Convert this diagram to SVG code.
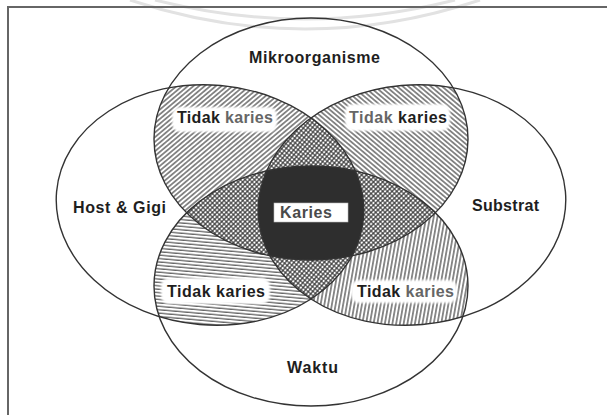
<svg xmlns="http://www.w3.org/2000/svg" width="607" height="415" viewBox="0 0 607 415">
<style>
  .lbl{font-family:"Liberation Sans",Arial,Helvetica,sans-serif;font-weight:bold;font-size:16px;fill:#1e1e1e}
  .outline{fill:none;stroke:#333;stroke-width:1.4}
  .box{fill:#fff;filter:url(#soft)}
  .dim{fill:#666}
  .wm{fill:none;stroke:#e2e2e2;stroke-width:3}
</style>
<defs>
  <ellipse id="eT" cx="311" cy="139" rx="157" ry="121"/>
  <ellipse id="eB" cx="311" cy="286" rx="157" ry="120"/>
  <ellipse id="eL" cx="210" cy="205" rx="154" ry="120" transform="rotate(5 210 205)"/>
  <ellipse id="eR" cx="412" cy="205" rx="154" ry="120" transform="rotate(-5 412 205)"/>
  <clipPath id="cT"><use href="#eT"/></clipPath>
  <clipPath id="cB"><use href="#eB"/></clipPath>
  <clipPath id="cL"><use href="#eL"/></clipPath>
  <clipPath id="cR"><use href="#eR"/></clipPath>
  <pattern id="hUL" width="3.6" height="3.6" patternUnits="userSpaceOnUse" patternTransform="rotate(45)">
    <rect width="3.6" height="3.6" fill="#fff"/>
    <line x1="0.9" y1="0" x2="0.9" y2="3.6" stroke="#444" stroke-width="1.2"/>
  </pattern>
  <pattern id="hUR" width="3.6" height="3.6" patternUnits="userSpaceOnUse" patternTransform="rotate(-45)">
    <rect width="3.6" height="3.6" fill="#fff"/>
    <line x1="0.9" y1="0" x2="0.9" y2="3.6" stroke="#444" stroke-width="1.2"/>
  </pattern>
  <pattern id="hH" width="4" height="3.4" patternUnits="userSpaceOnUse">
    <rect width="4" height="3.4" fill="#fff"/>
    <line x1="0" y1="1" x2="4" y2="1" stroke="#444" stroke-width="1.1"/>
  </pattern>
  <pattern id="hV" width="3.7" height="3.7" patternUnits="userSpaceOnUse" patternTransform="rotate(15)">
    <rect width="3.7" height="3.7" fill="#fff"/>
    <line x1="0.9" y1="0" x2="0.9" y2="3.7" stroke="#444" stroke-width="1.2"/>
  </pattern>
  <pattern id="dots" width="3.3" height="3.3" patternUnits="userSpaceOnUse" patternTransform="rotate(45)">
    <rect width="3.3" height="3.3" fill="#474747"/>
    <circle cx="1.65" cy="1.65" r="1.15" fill="#fff"/>
  </pattern>
  <filter id="soft" x="-10%" y="-30%" width="120%" height="160%"><feGaussianBlur stdDeviation="0.8"/></filter>
</defs>

<rect width="607" height="415" fill="#fff"/>

<g id="watermark">
  <path class="wm" d="M130,0 Q305,58 480,0"/>
  <path class="wm" d="M155,0 Q305,38 455,0"/>
</g>

<path id="frame" d="M8,415 V7 H607" fill="none" stroke="#666" stroke-width="2"/>

<g id="regions">
  <use href="#eL" clip-path="url(#cT)" fill="url(#hUL)"/>
  <use href="#eR" clip-path="url(#cT)" fill="url(#hUR)"/>
  <use href="#eL" clip-path="url(#cB)" fill="url(#hH)"/>
  <use href="#eR" clip-path="url(#cB)" fill="url(#hV)"/>
  <g clip-path="url(#cT)"><use href="#eR" clip-path="url(#cL)" fill="url(#dots)"/></g>
  <g clip-path="url(#cT)"><use href="#eB" clip-path="url(#cL)" fill="url(#dots)"/></g>
  <g clip-path="url(#cT)"><use href="#eB" clip-path="url(#cR)" fill="url(#dots)"/></g>
  <g clip-path="url(#cB)"><use href="#eR" clip-path="url(#cL)" fill="url(#dots)"/></g>
  <g clip-path="url(#cT)"><g clip-path="url(#cB)"><use href="#eR" clip-path="url(#cL)" fill="#2e2e2e"/></g></g>
</g>

<g id="connectors"></g>

<g id="mikroorganisme">
  <use href="#eT" class="outline"/>
  <text class="lbl" x="249" y="63" textLength="131">Mikroorganisme</text>
</g>
<g id="host-gigi">
  <use href="#eL" class="outline"/>
  <text class="lbl" x="73" y="213" textLength="93">Host &amp; Gigi</text>
</g>
<g id="substrat">
  <use href="#eR" class="outline"/>
  <text class="lbl" x="472" y="211" textLength="67">Substrat</text>
</g>
<g id="waktu">
  <use href="#eB" class="outline"/>
  <text class="lbl" x="287" y="373" textLength="51">Waktu</text>
</g>

<g id="label-tl">
  <rect class="box" x="172" y="107" width="105" height="25" rx="8"/>
  <text class="lbl" x="177" y="123" textLength="96">Tidak <tspan class="dim">karies</tspan></text>
</g>
<g id="label-tr">
  <rect class="box" x="345" y="104" width="105" height="27" rx="8"/>
  <text class="lbl" x="349" y="123" textLength="98"><tspan class="dim">Tidak</tspan> karies</text>
</g>
<g id="label-bl">
  <rect class="box" x="161" y="278" width="109" height="26" rx="8"/>
  <text class="lbl" x="167" y="297" textLength="98">Tidak karies</text>
</g>
<g id="label-br">
  <rect class="box" x="351" y="280" width="106" height="23" rx="8"/>
  <text class="lbl" x="357" y="297" textLength="97">Tidak <tspan class="dim">karies</tspan></text>
</g>
<g id="label-karies">
  <rect x="274" y="203" width="74" height="19" fill="#fff" stroke="#bbb" stroke-width="0.6"/>
  <text class="lbl" x="280" y="218" textLength="52" style="fill:#4a4a4a">Karies</text>
</g>
</svg>
